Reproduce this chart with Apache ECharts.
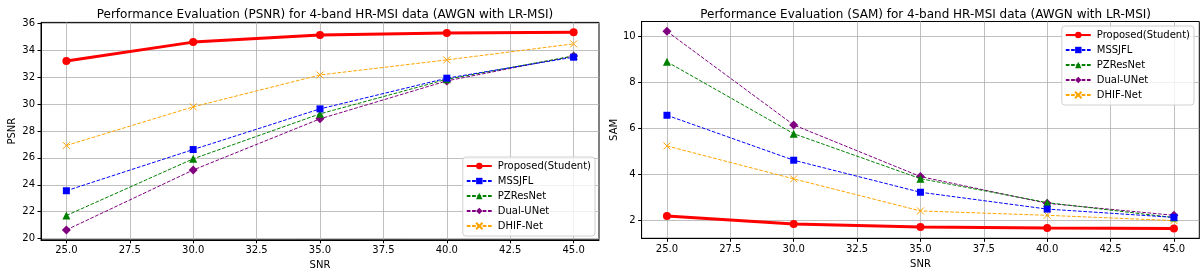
<!DOCTYPE html>
<html>
<head>
<meta charset="utf-8">
<script src="https://cdn.jsdelivr.net/npm/echarts@6/dist/echarts.min.js"></script>
<style>
html,body{margin:0;padding:0;background:#fff;}
#c{width:1203px;height:278px;}
</style>
</head>
<body>
<div id="c"></div>
<script>
const snr = [25, 30, 35, 40, 45];
const seriesNames = ['Proposed(Student)', 'MSSJFL', 'PZResNet', 'Dual-UNet', 'DHIF-Net'];

const psnrProposed = [33.2, 34.6, 35.13, 35.28, 35.33];
const psnrMSSJFL   = [23.56, 26.62, 29.64, 31.92, 33.48];
const psnrPZResNet = [21.72, 25.93, 29.27, 31.84, 33.57];
const psnrDualUNet = [20.65, 25.1, 28.9, 31.72, 33.57];
const psnrDHIFNet  = [26.92, 29.79, 32.16, 33.28, 34.47];

const samProposed = [2.19, 1.84, 1.71, 1.67, 1.65];
const samMSSJFL   = [6.56, 4.61, 3.22, 2.49, 2.13];
const samPZResNet = [8.88, 5.76, 3.81, 2.77, 2.12];
const samDualUNet = [10.2, 6.14, 3.9, 2.74, 2.22];
const samDHIFNet  = [5.23, 3.8, 2.41, 2.22, 1.99];

const xTicks = [25, 27.5, 30, 32.5, 35, 37.5, 40, 42.5, 45];
const psnrTicks = [20, 22, 24, 26, 28, 30, 32, 34, 36];
const samTicks = [2, 4, 6, 8, 10];

const titles = [
  'Performance Evaluation (PSNR) for 4-band HR-MSI data (AWGN with LR-MSI)',
  'Performance Evaluation (SAM) for 4-band HR-MSI data (AWGN with LR-MSI)'
];

function pad(arr){ // matplotlib 5% margins
  let mn = Math.min(...arr), mx = Math.max(...arr);
  const m = (mx - mn) * 0.05;
  return [mn - m, mx + m];
}
const psnrAll = [].concat(psnrProposed, psnrMSSJFL, psnrPZResNet, psnrDualUNet, psnrDHIFNet);
const samAll = [].concat(samProposed, samMSSJFL, samPZResNet, samDualUNet, samDHIFNet);
const psnrExt = pad(psnrAll);
const samExt = pad(samAll);
const xExt = pad(snr);

const FONT = 'DejaVu Sans';
const styles = [
  {color:'#ff0000', symbol:'circle', size:8, width:3, type:'solid'},
  {color:'#0000ff', symbol:'rect', size:7, width:1, type:[3.7,1.6]},
  {color:'#008000', symbol:'triangle', size:8, width:1, type:[3.7,1.6]},
  {color:'#800080', symbol:'diamond', size:9, width:1, type:[3.7,1.6]},
  {color:'#ffa500', symbol:'path://M0,0L10,10M10,0L0,10', size:7, width:1, type:[3.7,1.6]}
];

function mkSeries(datasets, idx){
  return datasets.map((d, i) => {
    const s = styles[i];
    return {
      name: seriesNames[i],
      type: 'line',
      xAxisIndex: idx, yAxisIndex: idx,
      data: snr.map((x, k) => [x, d[k]]),
      symbol: s.symbol,
      symbolSize: s.size,
      showAllSymbol: true,
      z: 10 - i,
      lineStyle: {color: s.color, width: s.width, type: s.type},
      itemStyle: i === 4 ? {color: s.color, borderColor: s.color, borderWidth: 1} : {color: s.color, borderWidth: 0},
      emphasis: {disabled: true},
      animation: false
    };
  });
}

const grids = [
  {left: 41, top: 22.4, width: 558, height: 217.4},
  {left: 641.6, top: 21.5, width: 557.7, height: 216.8}
];

function xAxis(idx){
  return {
    type: 'value', gridIndex: idx, min: xExt[0], max: xExt[1],
    name: 'SNR', nameLocation: 'middle', nameGap: 21,
    nameTextStyle: {fontFamily: FONT, fontSize: 10, color: '#000'},
    axisLine: {show: true, onZero: false, lineStyle: {color: '#000', width: 1}},
    axisTick: {show: true, length: 3.5, lineStyle: {color: '#000'}, customValues: xTicks},
    axisLabel: {fontFamily: FONT, fontSize: 10, color: '#000', margin: 6, customValues: xTicks,
      formatter: v => v.toFixed(1)},
    splitLine: {show: true, lineStyle: {color: '#b0b0b0', width: 0.8}}
  };
}
function yAxis(idx, ext, ticks, name){
  return {
    type: 'value', gridIndex: idx, min: ext[0], max: ext[1],
    name: name, nameLocation: 'middle', nameGap: idx === 0 ? 24 : 22, nameRotate: 90,
    nameTextStyle: {fontFamily: FONT, fontSize: 10, color: '#000'},
    axisLine: {show: true, onZero: false, lineStyle: {color: '#000', width: 1}},
    axisTick: {show: true, length: 3.5, lineStyle: {color: '#000'}, customValues: ticks},
    axisLabel: {fontFamily: FONT, fontSize: 10, color: '#000', margin: 6, customValues: ticks,
      formatter: v => String(Math.round(v))},
    splitLine: {show: true, lineStyle: {color: '#b0b0b0', width: 0.8}}
  };
}

const legendCommon = {
  orient: 'vertical',
  itemWidth: 25, itemHeight: 8, itemGap: 3,
  padding: [3, 4, 4, 3],
  backgroundColor: 'rgba(255,255,255,0.8)',
  borderColor: '#d0d0d0', borderWidth: 1, borderRadius: 3,
  textStyle: {fontFamily: FONT, fontSize: 10, lineHeight: 12, color: '#000', padding: [0,0,0,1]},
  selectedMode: false,
  data: seriesNames
};

const option = {
  animation: false,
  title: [
    {text: titles[0], left: 41 + 279, top: 4, textAlign: 'center',
     textStyle: {fontFamily: FONT, fontSize: 12, fontWeight: 'normal', color: '#000'}},
    {text: titles[1], left: 641.6 + 279, top: 4, textAlign: 'center',
     textStyle: {fontFamily: FONT, fontSize: 12, fontWeight: 'normal', color: '#000'}}
  ],
  grid: grids.map(g => Object.assign({show: true, borderColor: '#000', borderWidth: 1, backgroundColor: 'transparent'}, g)),
  xAxis: [xAxis(0), xAxis(1)],
  yAxis: [yAxis(0, psnrExt, psnrTicks, 'PSNR'), yAxis(1, samExt, samTicks, 'SAM')],
  legend: [
    Object.assign({}, legendCommon, {right: 1203 - 595, bottom: 278 - 236}),
    Object.assign({}, legendCommon, {right: 1203 - 1194, top: 26})
  ],
  series: [].concat(
    mkSeries([psnrProposed, psnrMSSJFL, psnrPZResNet, psnrDualUNet, psnrDHIFNet], 0),
    mkSeries([samProposed, samMSSJFL, samPZResNet, samDualUNet, samDHIFNet], 1)
  )
};

const chart = echarts.init(document.getElementById('c'), null, {renderer: 'canvas'});
chart.setOption(option);
</script>
</body>
</html>
